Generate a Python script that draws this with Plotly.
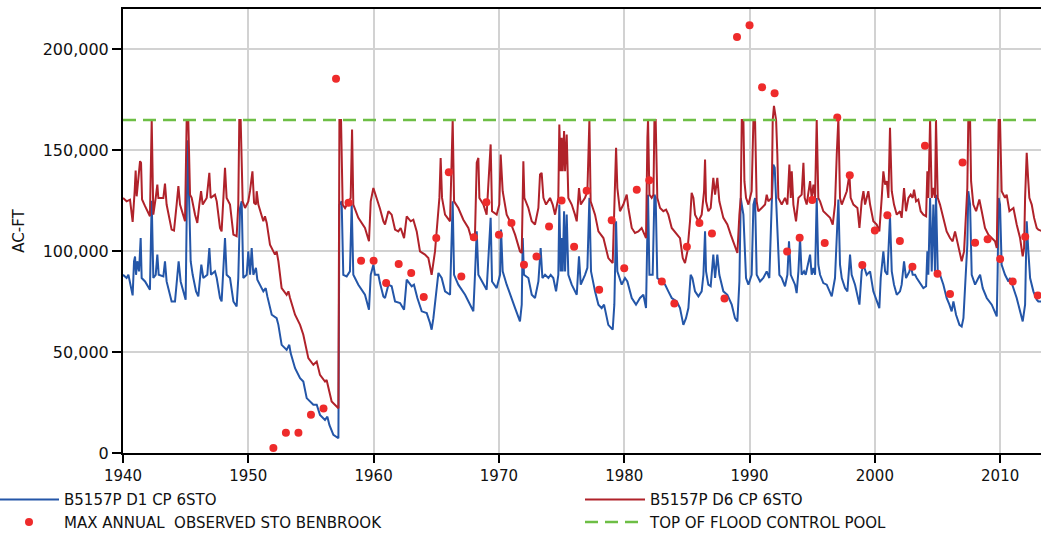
import plotly.graph_objects as go

# ---------------- data (storage in acre-feet) ----------------
D6_YEAR = [1940.00,1940.29,1940.56,1940.77,1940.93,1941.01,1941.09,1941.22,1941.36,1941.44,1941.52,1941.76,1942.15,1942.29,1942.42,1942.61,1942.74,1942.82,1943.22,1943.35,1943.48,1943.88,1944.07,1944.28,1944.42,1944.55,1944.95,1945.08,1945.21,1945.35,1945.48,1945.75,1945.93,1946.09,1946.23,1946.36,1946.68,1946.89,1947.00,1947.34,1947.48,1947.74,1947.87,1948.14,1948.27,1948.54,1948.81,1949.07,1949.20,1949.28,1949.39,1949.55,1949.74,1950.00,
           1950.14,1950.33,1950.46,1950.61,1950.67,1950.80,1951.20,1951.33,1951.47,1951.73,1952.13,1952.26,1952.40,1952.66,1953.06,1953.20,1953.33,1953.73,1954.13,1954.39,1954.79,1955.19,1955.46,1955.72,1956.12,1956.25,1956.39,1956.65,1957.19,1957.27,1957.40,1957.53,1957.72,1957.98,1958.17,1958.28,1958.38,1958.78,1959.31,1959.63,1959.77,1959.98,1960.24,
           1960.51,1960.78,1960.91,1961.18,1961.44,1961.71,1961.97,1962.16,1962.43,1962.64,1962.96,1963.17,1963.44,1963.70,1964.10,1964.37,1964.63,1964.90,1965.09,1965.25,1965.35,1965.46,1965.70,1966.10,1966.31,1966.42,1966.76,1967.16,1967.56,1967.83,1968.09,1968.23,1968.36,1968.44,1968.76,1969.02,1969.34,1969.45,1969.82,1970.03,1970.14,1970.30,1970.62,
           1970.89,1971.29,1971.68,1971.82,1971.90,1971.95,1972.03,1972.35,1972.62,1972.88,1973.15,1973.28,1973.41,1973.55,1973.76,1973.95,1974.08,1974.29,1974.48,1974.74,1974.82,1974.93,1975.01,1975.09,1975.20,1975.28,1975.41,1975.54,1975.81,1976.07,1976.21,1976.39,1976.53,1976.87,1977.06,1977.22,1977.32,1977.67,1977.94,1978.34,1978.73,1979.08,1979.21,1979.35,1979.45,1979.66,1979.93,1980.20,1980.33,1980.60,1980.86,1981.13,1981.39,
           1981.53,1981.74,1981.85,1981.90,1982.01,1982.19,1982.33,1982.41,1982.51,1982.64,1982.86,1983.12,1983.34,1983.52,1983.79,1984.19,1984.45,1984.67,1984.85,1985.04,1985.25,1985.38,1985.52,1985.65,1985.92,1986.18,1986.37,1986.45,1986.53,1986.71,1986.90,1987.11,1987.25,1987.43,1987.59,1987.91,1988.23,1988.50,1988.84,1989.03,1989.19,1989.30,1989.38,1989.51,1989.59,1989.72,1989.91,1990.17,1990.31,1990.44,1990.57,1990.70,1990.97,1991.24,1991.37,1991.50,1991.77,1991.85,
           1991.95,1992.12,1992.22,1992.30,1992.57,1992.83,1993.02,1993.18,1993.29,1993.37,1993.50,1993.71,1993.90,1994.16,1994.30,1994.40,1994.56,1994.83,1994.96,1995.10,1995.23,1995.36,1995.49,1995.63,1995.89,1996.16,1996.43,1996.64,1996.82,1996.96,1997.09,1997.22,1997.36,1997.76,1997.97,1998.07,1998.29,1998.61,1998.77,1998.95,1999.09,1999.22,1999.48,1999.62,1999.88,2000.15,2000.36,2000.55,2000.68,2000.82,2000.95,2001.08,2001.21,2001.35,2001.53,2001.75,2002.01,
           2002.14,2002.33,2002.49,2002.68,2002.86,2003.02,2003.13,2003.29,2003.47,2003.66,2003.87,2004.09,2004.19,2004.27,2004.41,2004.54,2004.67,2004.80,2004.88,2005.02,2005.20,2005.47,2005.73,2006.00,2006.21,2006.40,2006.67,2006.93,2007.12,2007.28,2007.38,2007.46,2007.60,2007.68,2007.86,2008.08,2008.34,2008.53,2008.79,2009.06,2009.33,2009.59,2009.73,2009.80,2009.88,2009.99,2010.12,2010.39,2010.52,2010.74,2011.06,2011.32,2011.59,2011.80,2011.91,2011.99,2012.12,2012.23,2012.33,2012.52,2012.71,2012.92,2013.05,2013.30]
D6_STO = [126400,124700,125500,114500,129700,140000,127200,134700,144600,143800,125600,122300,117300,165000,118100,126400,133000,126400,126400,133500,123100,110700,110200,123100,132200,123100,114800,165000,165000,128000,126400,118100,114000,123100,129700,123100,126400,138800,126400,128000,124700,111500,109800,141300,126400,123100,108200,107400,123100,165000,165000,124700,121400,124700,
          130000,139600,124000,123100,129700,123100,114800,117300,114000,103200,98300,99900,95000,81700,78400,80100,76800,68500,63500,58600,47000,43700,45300,38700,35400,36200,32100,25500,22200,165000,165000,123100,121400,124700,126400,160300,123100,116500,111500,104900,124700,131300,126400,
          121000,114800,113200,119800,118100,110700,109800,111500,106500,117300,114800,115600,109800,99900,98300,96600,88300,99900,116500,126400,146200,126400,118100,114800,165000,124700,121400,115600,111500,105700,108200,143800,146200,126400,123100,118100,152900,119800,118100,123100,147900,129700,118100,
          114800,108200,99900,99100,126400,144600,126400,121400,114800,113200,121400,138000,138800,126400,123100,124700,126400,123100,118100,126400,162800,139600,156200,139600,159500,139600,157800,126400,123100,118100,114800,131300,123100,126400,129700,165000,124700,118100,109800,106500,96600,94100,123100,151200,131300,119800,123100,128000,121400,111500,109000,109800,111500,
          109800,106500,156200,165000,128000,126400,128000,165000,165000,126400,121400,119800,120600,118100,111500,108200,106500,96600,94100,99900,114800,128900,126400,118100,114800,118100,129700,145400,124700,119800,121400,136300,128000,136300,124700,116500,113200,108200,101600,99100,118100,126400,165000,165000,134700,126400,123100,129700,165000,165000,124700,119800,121400,123100,128000,124700,126400,165000,
          172000,165000,147900,126400,123100,126400,123100,142900,126400,139600,123100,114800,126400,128000,143800,126400,123100,134700,126400,133000,126400,165000,126400,124700,119800,118100,116500,113200,123100,147900,166000,126400,123100,129700,138000,126400,123100,121400,111500,124700,129700,123100,129700,123100,114800,113200,109800,126400,139600,133000,134700,126400,161100,129700,123100,118100,119800,
          116500,131300,119800,126400,128000,126400,130500,124700,125600,119800,118100,117300,139600,126400,165000,126400,131300,126400,165000,126400,123100,116500,109800,106500,104900,109800,101600,95000,99900,119800,131300,165000,165000,134700,123100,119800,125600,119800,111500,108200,106500,104900,101600,123100,165000,165000,129700,126400,128000,119800,121400,113200,106500,97400,101600,126400,148700,136300,126400,123100,116500,111500,110700,110000]

D1_YEAR = [1940.00,1940.29,1940.43,1940.77,1940.88,1940.96,1941.04,1941.14,1941.28,1941.41,1941.49,1941.76,1942.15,1942.29,1942.42,1942.61,1942.74,1942.85,1943.22,1943.35,1943.48,1943.88,1944.15,1944.34,1944.44,1944.60,1945.00,1945.16,1945.29,1945.40,1945.56,1945.83,1946.01,1946.15,1946.25,1946.41,1946.73,1946.89,1947.02,1947.34,1947.48,1947.74,1947.87,1948.14,1948.27,1948.54,1948.81,1949.07,1949.20,1949.34,1949.47,1949.60,1949.87,1950.00,1950.14,1950.27,1950.40,
           1950.61,1950.72,1951.20,1951.39,1951.52,1951.87,1952.26,1952.40,1952.66,1953.06,1953.27,1953.38,1953.73,1954.13,1954.39,1954.66,1955.19,1955.46,1955.72,1956.12,1956.31,1956.47,1956.79,1957.19,1957.27,1957.45,1957.58,1957.85,1958.11,1958.25,1958.38,1958.78,1959.31,1959.63,1959.77,1959.98,1960.11,1960.38,
           1960.51,1960.78,1960.91,1961.18,1961.44,1961.71,1962.11,1962.43,1962.64,1963.04,1963.22,1963.49,1963.84,1964.24,1964.50,1964.63,1964.77,1964.98,1965.17,1965.43,1965.70,1966.10,1966.31,1966.42,1966.76,1967.30,1967.69,1967.96,1968.09,1968.23,1968.36,1968.76,1969.02,1969.34,1969.45,1969.82,1970.09,1970.17,1970.30,1970.62,
           1970.89,1971.29,1971.68,1971.82,1971.90,1972.00,1972.35,1972.62,1972.88,1973.15,1973.33,1973.47,1973.68,1973.95,1974.13,1974.34,1974.56,1974.74,1974.82,1974.93,1975.01,1975.09,1975.20,1975.28,1975.41,1975.54,1975.81,1976.07,1976.21,1976.39,1976.53,1976.87,1977.06,1977.22,1977.35,1977.67,1977.94,1978.20,1978.39,1978.73,1979.08,1979.21,1979.35,1979.45,1979.80,1980.06,1980.25,1980.60,1980.94,1981.26,
           1981.53,1981.74,1981.85,1981.90,1982.01,1982.27,1982.41,1982.51,1982.64,1982.99,1983.26,1983.52,1983.79,1984.19,1984.45,1984.72,1984.93,1985.12,1985.30,1985.44,1985.65,1985.92,1986.18,1986.32,1986.45,1986.53,1986.71,1986.90,1987.11,1987.25,1987.43,1987.59,1987.91,1988.23,1988.58,1988.84,1989.03,1989.19,1989.30,1989.38,1989.51,1989.72,1989.91,1990.17,1990.31,1990.44,1990.57,1990.84,1991.10,1991.37,1991.58,1991.77,
           1991.90,1992.01,1992.12,1992.22,1992.38,1992.57,1992.83,1993.02,1993.15,1993.29,1993.42,1993.63,1993.76,1993.90,1994.03,1994.16,1994.35,1994.48,1994.83,1994.96,1995.10,1995.23,1995.36,1995.49,1995.63,1995.89,1996.16,1996.56,1996.82,1996.96,1997.09,1997.22,1997.36,1997.62,1997.81,1998.02,1998.15,1998.42,1998.77,1998.95,1999.09,1999.35,1999.62,1999.88,2000.15,2000.36,2000.47,2000.68,2000.82,2001.00,2001.21,2001.35,2001.53,2001.75,2002.01,
           2002.14,2002.33,2002.49,2002.76,2002.86,2003.02,2003.21,2003.34,2003.66,2003.87,2004.09,2004.19,2004.27,2004.41,2004.54,2004.67,2004.80,2004.88,2005.02,2005.20,2005.47,2005.73,2005.95,2006.13,2006.27,2006.48,2006.75,2006.93,2007.07,2007.23,2007.38,2007.46,2007.60,2007.73,2008.00,2008.26,2008.40,2008.61,2008.93,2009.33,2009.59,2009.73,2009.80,2009.88,2009.99,2010.12,2010.39,2010.66,2010.79,2011.06,2011.32,2011.59,2011.80,2011.99,2012.12,2012.25,2012.39,2012.65,2012.92,2013.05,2013.30]
D1_STO = [88300,86700,88300,78100,95000,97400,88300,95000,90000,106500,86700,85000,80900,125000,86700,88300,98300,88300,87500,95000,85000,75100,75100,90000,95000,85000,75900,155000,126400,95000,88300,80100,77600,86700,93300,86700,88300,101600,88300,90000,86700,76800,75100,106500,88300,86700,75100,72600,86700,121400,124700,86700,88300,99900,88300,101600,88300,
          91700,85900,80100,81700,77600,68500,66800,63500,53600,51100,53600,49500,42000,37100,35400,27200,23900,23900,18900,16400,18000,13900,9000,7300,123100,124700,88300,87500,90000,123100,88300,83400,78400,71000,88300,93300,88300,88300,
          84200,77600,76800,83400,82600,75100,74300,71000,85900,82600,83400,76800,70200,69300,64400,61100,66800,80100,89200,86700,80100,78400,124700,88300,83400,78400,73500,70200,88300,109800,88300,83400,80900,116500,85000,81700,88300,110700,90000,83400,
          78400,71800,65200,73500,106500,88300,86700,78400,76800,85000,101600,86700,88300,86700,88300,86700,80100,88300,123100,90000,106500,90000,119800,90000,118100,88300,83400,80100,78400,97400,83400,88300,91700,126400,90000,80100,73500,71800,73500,63500,61100,73500,114800,90000,83400,86700,85000,76800,73500,76800,
          78400,71800,123100,128000,88300,88300,128000,126400,86700,85000,83400,80100,76800,75100,71800,63500,66800,71800,88300,86700,80100,77600,80100,88300,109800,90000,83400,82600,98300,86700,98300,88300,80100,78400,73500,66800,65200,85000,126400,123100,118100,86700,83400,88300,123100,126400,88300,85000,86700,90000,86700,123100,
          142900,141300,126400,106500,88300,86700,82600,88300,104900,88300,86700,83400,79200,90000,106500,88300,90000,88300,98300,88300,91700,88300,126400,93300,88300,84200,83400,77600,86700,106500,125600,93300,86700,81700,80100,98300,88300,83400,73500,90000,93300,88300,90000,80100,75100,71800,86700,99900,90000,88300,117300,90000,83400,78400,80100,
          83400,95000,86700,90000,93300,88300,88300,86700,83400,81700,82600,99900,88300,126400,90000,123100,90000,128000,90000,88300,83400,76800,73500,70200,75100,68500,63500,62700,66800,88300,103200,129700,123100,88300,83400,86700,88300,81700,76800,73500,70200,67700,90000,126400,123100,93300,88300,85000,86700,81700,76800,70200,65200,73500,114800,99900,86700,80100,76000,75100,75000]

OBS_YEAR = [1952,1953,1954,1955,1956,1957,1958,1959,1960,1961,1962,1963,1964,1965,1966,1967,1968,1969,1970,1971,1972,1973,1974,1975,1976,1977,1978,1979,1980,1981,1982,1983,1984,1985,1986,1987,1988,1989,1990,1991,1992,1993,1994,1995,1996,1997,1998,1999,2000,2001,2002,2003,2004,2005,2006,2007,2008,2009,2010,2011,2012,2013]
OBS_STO = [2500,10000,10000,19000,22000,185500,124000,95300,95300,84200,93600,89200,77300,106500,139100,87500,106900,124200,108200,114000,93300,97400,112200,125100,102200,130000,80900,115300,91500,130500,135100,85000,74100,102200,114000,108800,76600,206100,211900,181200,178300,99800,106700,125400,104000,166300,137600,93100,110200,117800,105000,92300,152200,88800,78800,143900,104200,105900,96100,85000,107100,78100]

POOL_YEAR = [1940, 2013.3]
POOL_STO = [165000, 165000]

NAMES = ["B5157P D1 CP 6STO", "B5157P D6 CP 6STO",
         "MAX ANNUAL  OBSERVED STO BENBROOK", "TOP OF FLOOD CONTROL POOL"]

X_TICKS = [1940, 1950, 1960, 1970, 1980, 1990, 2000, 2010]
Y_TICKS = [0, 50000, 100000, 150000, 200000]

FONT = "DejaVu Sans"

fig = go.Figure()
fig.add_trace(go.Scatter(x=D1_YEAR, y=D1_STO, mode="lines", name=NAMES[0],
                         line=dict(color="#2456A8", width=2), legend="legend"))
fig.add_trace(go.Scatter(x=D6_YEAR, y=D6_STO, mode="lines", name=NAMES[1],
                         line=dict(color="#B0222A", width=2), legend="legend2"))
fig.add_trace(go.Scatter(x=OBS_YEAR, y=OBS_STO, mode="markers", name=NAMES[2],
                         marker=dict(color="#EE2B2B", size=8, line=dict(width=0)),
                         legend="legend"))
fig.add_trace(go.Scatter(x=POOL_YEAR, y=POOL_STO, mode="lines", name=NAMES[3],
                         line=dict(color="#6DBE45", width=2.5, dash="13px,7px"),
                         legend="legend2"))

legend_common = dict(
    orientation="v", xanchor="left", yanchor="top", y=-0.068,
    bgcolor="rgba(0,0,0,0)", borderwidth=0, itemwidth=60,
    font=dict(family=FONT, size=15, color="#111111"),
    tracegroupgap=0,
)

fig.update_layout(
    width=1041, height=533,
    margin=dict(l=123, r=0, t=9, b=80, autoexpand=False),
    paper_bgcolor="white", plot_bgcolor="white",
    font=dict(family=FONT, size=16, color="#111111"),
    showlegend=True,
    legend=dict(x=-129 / 918, **legend_common),
    legend2=dict(x=(580 - 123) / 918, **legend_common),
    xaxis=dict(
        range=[1940, 2013.26], tickvals=X_TICKS, tickformat="d",
        showgrid=True, gridcolor="#D2D2D2", gridwidth=1.5,
        showline=True, linecolor="black", linewidth=2, mirror=True,
        ticks="outside", ticklen=8, tickwidth=1.5, tickcolor="black",
        tickfont=dict(family=FONT, size=15, color="#111111"),
        zeroline=False,
    ),
    yaxis=dict(
        range=[0, 220000], tickvals=Y_TICKS, tickformat=",",
        showgrid=True, gridcolor="#D2D2D2", gridwidth=1.5,
        showline=True, linecolor="black", linewidth=2,
        ticks="outside", ticklen=9, tickwidth=1.5, tickcolor="black",
        tickfont=dict(family=FONT, size=16, color="#111111"),
        zeroline=False,
        title=dict(text="AC-FT", font=dict(family=FONT, size=15, color="#111111"), standoff=14),
    ),
)

fig.write_html("out.html")
